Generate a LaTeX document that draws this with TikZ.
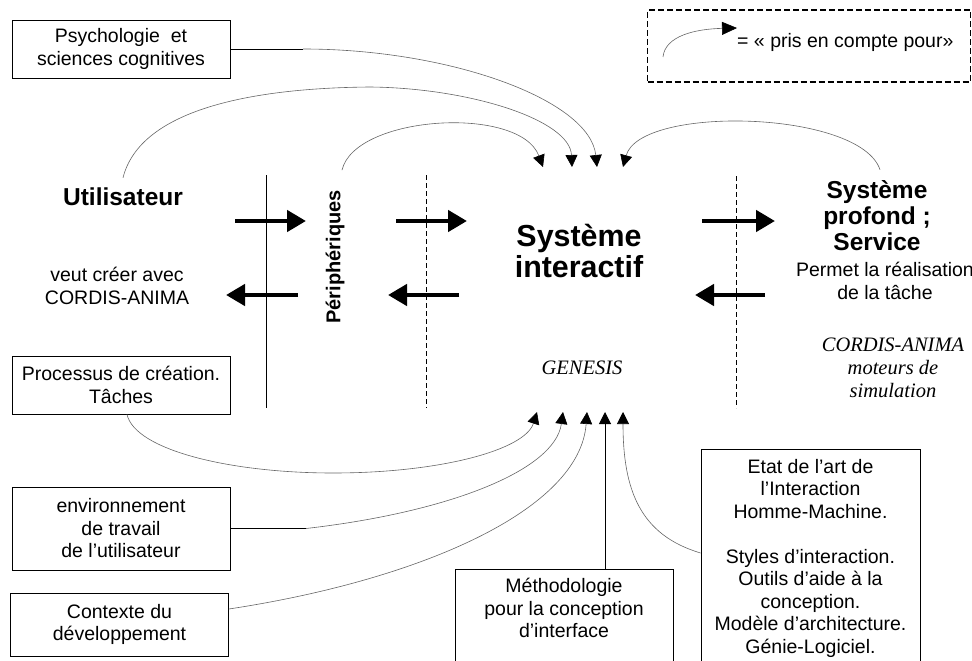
\documentclass[tikz,border=0pt]{standalone}
\usepackage{fontspec}
\setmainfont{Liberation Sans}
\newfontfamily\timesfont{Liberation Serif}
\usetikzlibrary{arrows.meta,positioning}

\begin{document}
\begin{tikzpicture}[
    x=1pt, y=-1pt,
    every node/.style={inner sep=0pt, align=center, font=\fontsize{19.5}{22.5}\selectfont},
    box/.style={draw, line width=0.8pt, minimum width=218pt},
    title/.style={font=\fontsize{24.5}{26}\selectfont\bfseries},
    engine text/.style={font=\fontsize{20.5}{23}\selectfont\timesfont\itshape},
    flow/.style={line width=4.5pt, -{Triangle[length=19pt,width=21pt]}},
    link/.style={draw=black!60, line width=0.6pt, -{Triangle[length=12pt,width=12pt,color=black]}},
    border/.style={line width=0.8pt},
    bound/.style={line width=0.8pt, dash pattern=on 5pt off 3pt}
    ]
    \clip (0,0) rectangle (972,661);

    % arrow tips on the interactive system
    \coordinate (tA) at (543,167);
    \coordinate (tB) at (572,167);
    \coordinate (tC) at (597,167);
    \coordinate (tD) at (623,167);
    \coordinate (bA) at (537,412);
    \coordinate (bB) at (563,412);
    \coordinate (bC) at (587,412);
    \coordinate (bD) at (605,412);
    \coordinate (bE) at (623,412);

    % legend
    \node[draw, line width=1.6pt, dash pattern=on 6pt off 3pt, minimum width=323pt, minimum height=72pt] (legend) at (809,46) {};
    \node[anchor=west] (legtext) at (737,42) {= « pris en compte pour»};
    \coordinate (legstart) at (663,57);
    \draw[draw=black!60, line width=0.6pt, -{Triangle[length=15pt,width=13pt,color=black]}]
        (legstart) .. controls (665,36) and (695,29) .. ([yshift=14pt]legtext.west);

    % boxes on the left
    \node[box, minimum height=58pt] (psy) at (121,49) {Psychologie \ et\\sciences cognitives};
    \node[box, minimum height=58pt] (proc) at (121,385) {Processus de création.\\Tâches};
    \node[box, minimum height=83pt] (env) at (121,528.5) {environnement\\de travail\\de l’utilisateur};
    \node[box, minimum height=63pt] (ctx) at (119.5,624.5) {Contexte du\\développement};

    % boxes at the bottom
    \node[box, minimum height=120pt, anchor=north] (meth) at (564,569) {};
    \node[below=9pt of meth.north] (methtext) {Méthodologie\\pour la conception\\d’interface};
    \node[box, minimum width=219pt, minimum height=230pt, anchor=north] (etat) at (810.5,449) {};
    \node[below=10pt of etat.north] (etattext) {Etat de l’art de\\l’Interaction\\Homme-Machine.\\[22.5pt]Styles d’interaction.\\Outils d’aide à la\\conception.\\Modèle d’architecture.\\Génie-Logiciel.};

    % the three parts
    \node[title] (user) at (123,197) {Utilisateur};
    \node (want) at (117,286) {veut créer avec\\CORDIS-ANIMA};
    \node[font=\fontsize{20}{22}\selectfont\bfseries, rotate=90] (periph) at (335,257) {Périphériques};
    \node[font=\fontsize{30.4}{31}\selectfont\bfseries] (sys) at (579,251) {Système\\interactif};
    \node[engine text] (genesis) at (582,368) {GENESIS};
    \node[title] (deep) at (877,216) {Système\\profond ;\\Service};
    \node (task) at (885,281) {Permet la réalisation\\de la tâche};
    \node[engine text] (engine) at (893,368) {CORDIS-ANIMA\\moteurs de\\simulation};

    % separations
    \draw[border] (266,175) -- (266,408);
    \draw[bound] (426,175) -- (426,408);
    \draw[bound] (736,176) -- (736,408);

    % exchanges
    \foreach \xa/\xb in {235/306, 396/467, 702/775}
        \draw[flow] (\xa,221) -- (\xb,221);
    \foreach \xa/\xb in {298/226, 459/388, 765/695}
        \draw[flow] (\xa,295) -- (\xb,295);

    % links from above
    \coordinate (psyend) at (303,49);
    \draw[border] (psy.east) -- (psyend);
    \draw[link] (psyend) .. controls (450,49) and (590,100) .. (tC);
    \draw[link] ([yshift=10pt]user.north) .. controls (140,110) and (250,88) .. (370,87)
        .. controls (470,88) and (570,120) .. (tB);
    \draw[link] ([xshift=7pt,yshift=20pt]periph.east) .. controls (355,115) and (520,105) .. (tA);
    \draw[link] ([xshift=3pt,yshift=11pt]deep.north) .. controls (860,110) and (640,105) .. (tD);

    % links from below
    \draw[link] ([xshift=6pt]proc.south) .. controls (135,450) and (230,473) .. (333,473)
        .. controls (440,473) and (525,450) .. (bA);
    \coordinate (envend) at (306,528.5);
    \draw[border] (env.east) -- (envend);
    \draw[link] (envend) .. controls (450,512) and (555,470) .. (bB);
    \draw[link] ([yshift=15.5pt]ctx.east) .. controls (420,580) and (580,510) .. (bC);
    \draw[line width=1pt, -{Triangle[length=12pt,width=12pt]}] (meth.north -| bD) -- (bD);
    \draw[link] ([yshift=-104pt]etat.north west) .. controls (640,535) and (623,490) .. (bE);
\end{tikzpicture}
\end{document}
